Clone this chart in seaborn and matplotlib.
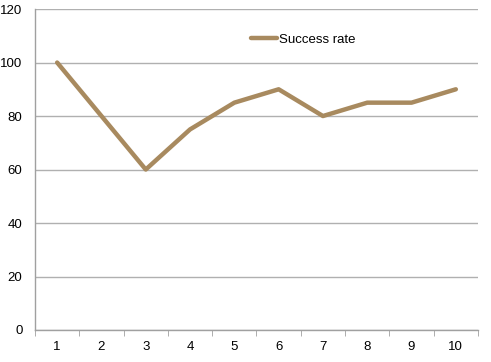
import matplotlib
matplotlib.use("Agg")
import matplotlib.pyplot as plt
import seaborn as sns
import pandas as pd
import numpy as np

trials = [1, 2, 3, 4, 5, 6, 7, 8, 9, 10]
success_rate = [100, 80, 60, 75, 85, 90, 80, 85, 85, 90]
y_ticks = [0, 20, 40, 60, 80, 100, 120]

sns.set_style("white")
plt.rcParams['font.family'] = ['Liberation Sans', 'DejaVu Sans']

df = pd.DataFrame({'trial': trials, 'Success rate': success_rate})

fig = plt.figure(figsize=(4.91, 3.62), dpi=100)
ax = fig.add_axes([0.0713, 0.0884, 0.9022, 0.8866])

sns.lineplot(data=df, x='trial', y='Success rate', ax=ax, color='#A88A5F',
             linewidth=3.2, label='Success rate')

ax.set_xlim(0.5, 10.5)
ax.set_ylim(0, 120)
ax.set_yticks(y_ticks)
ax.set_xticks(trials)
ax.set_xticks(np.arange(0.5, 11, 1), minor=True)
ax.yaxis.grid(True, color='#B0B0B0', linewidth=1)
ax.set_axisbelow(True)
ax.set_xlabel('')
ax.set_ylabel('')

for side in ['top', 'right']:
    ax.spines[side].set_visible(False)
for side in ['left', 'bottom']:
    ax.spines[side].set_color('#A0A0A0')
    ax.spines[side].set_linewidth(1)

ax.tick_params(axis='x', which='major', length=0, labelsize=9.5, pad=8, labelcolor='black')
ax.tick_params(axis='x', which='minor', length=4, color='#A0A0A0', direction='out')
ax.tick_params(axis='y', length=4, color='#A0A0A0', direction='out', labelsize=9.5, pad=5,
               labelcolor='black')
ax.tick_params(axis='x', which='minor', bottom=True)

leg = ax.legend(loc='center', bbox_to_anchor=(0.605, 0.905), frameon=False,
                fontsize=9.5, handlelength=2.0, handletextpad=0.1)
for t in leg.get_texts():
    t.set_color('black')

fig.savefig('out.png', dpi=100)
